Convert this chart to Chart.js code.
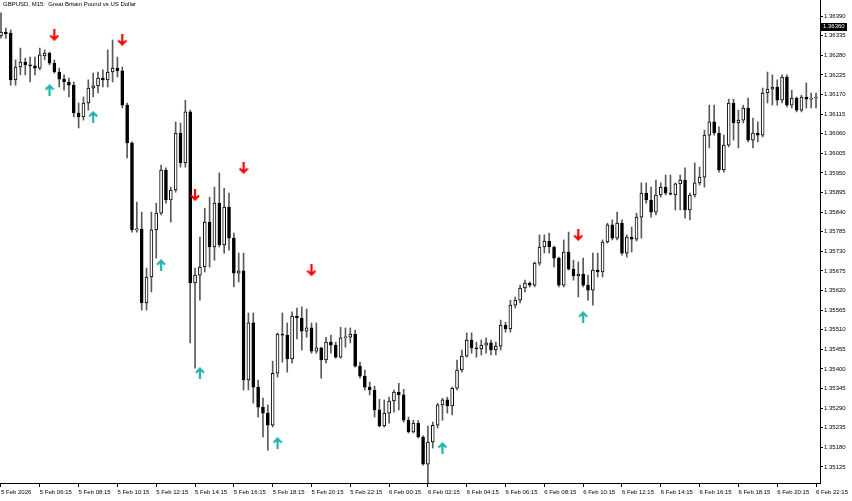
<!DOCTYPE html>
<html>
<head>
<meta charset="utf-8">
<script src="https://cdn.jsdelivr.net/npm/chart.js@4.4.1/dist/chart.umd.min.js"></script>
<style>
  html, body { margin: 0; padding: 0; background: #fff; }
  #wrap { position: relative; width: 852px; height: 501px; }
  #title { position: absolute; left: 3px; top: 1px; font: 6px "Liberation Sans", Arial, sans-serif; color: #000; white-space: pre; }
</style>
</head>
<body>
<div id="wrap">
  <canvas id="chartGbp" width="852" height="501"></canvas>
  <div id="title">GBPUSD, M15:  Great Britain Pound vs US Dollar</div>
</div>
<script>
// GBPUSD M15, one bar per 15 min, first bar 5 Feb 04:15
const opens = [
  1.36334,1.36345,1.36342,1.36211,1.36247,1.36261,1.36253,1.36250,1.36244,1.36278,
  1.36286,1.36258,1.36233,1.36213,1.36205,1.36196,1.36118,1.36107,1.36146,1.36188,
  1.36194,1.36216,1.36211,1.36233,1.36244,1.36236,1.36140,1.36034,1.35790,1.35792,
  1.35585,1.35658,1.35790,1.35837,1.35958,1.35874,1.35902,1.36062,1.35978,1.36121,
  1.35641,1.35663,1.35686,1.35812,1.35742,1.35865,1.35748,1.35854,1.35767,1.35669,
  1.35675,1.35369,1.35529,1.35349,1.35293,1.35276,1.35242,1.35388,1.35498,1.35495,
  1.35428,1.35548,1.35543,1.35506,1.35515,1.35450,1.35459,1.35425,1.35475,1.35467,
  1.35433,1.35487,1.35489,1.35498,1.35408,1.35380,1.35349,1.35341,1.35285,1.35240,
  1.35276,1.35310,1.35335,1.35327,1.35256,1.35223,1.35248,1.35209,1.35133,1.35195,
  1.35242,1.35299,1.35313,1.35296,1.35346,1.35397,1.35436,1.35481,1.35459,1.35456,
  1.35467,1.35473,1.35453,1.35464,1.35523,1.35512,1.35579,1.35593,1.35627,1.35641,
  1.35635,1.35697,1.35742,1.35759,1.35742,1.35711,1.35635,1.35728,1.35680,1.35661,
  1.35666,1.35635,1.35621,1.35677,1.35672,1.35756,1.35804,1.35767,1.35809,1.35725,
  1.35770,1.35764,1.35826,1.35893,1.35874,1.35840,1.35888,1.35910,1.35893,1.35888,
  1.35919,1.35930,1.35846,1.35888,1.35922,1.35938,1.36056,1.36093,1.36062,1.35958,
  1.36028,1.36146,1.36090,1.36098,1.36132,1.36042,1.36062,1.36056,1.36174,1.36185,
  1.36191,1.36154,1.36219,1.36140,1.36160,1.36126,1.36163,1.36157,1.36160
];
const highs = [
  1.36399,1.36356,1.36351,1.36267,1.36300,1.36272,1.36275,1.36275,1.36300,1.36295,
  1.36289,1.36267,1.36244,1.36225,1.36216,1.36205,1.36146,1.36163,1.36211,1.36230,
  1.36233,1.36239,1.36295,1.36323,1.36275,1.36247,1.36146,1.36037,1.35868,1.35840,
  1.35683,1.35840,1.35865,1.35972,1.35964,1.35910,1.36093,1.36090,1.36154,1.36126,
  1.35683,1.35770,1.35851,1.35882,1.35910,1.35950,1.35907,1.35893,1.35781,1.35725,
  1.35725,1.35557,1.35557,1.35369,1.35318,1.35299,1.35422,1.35501,1.35557,1.35529,
  1.35560,1.35571,1.35574,1.35568,1.35529,1.35529,1.35461,1.35489,1.35495,1.35475,
  1.35517,1.35515,1.35515,1.35509,1.35419,1.35397,1.35363,1.35352,1.35315,1.35313,
  1.35321,1.35341,1.35360,1.35343,1.35265,1.35256,1.35256,1.35212,1.35240,1.35251,
  1.35304,1.35318,1.35321,1.35349,1.35425,1.35453,1.35501,1.35501,1.35475,1.35481,
  1.35487,1.35481,1.35475,1.35537,1.35531,1.35593,1.35602,1.35635,1.35649,1.35644,
  1.35700,1.35776,1.35776,1.35781,1.35745,1.35714,1.35762,1.35784,1.35705,1.35700,
  1.35711,1.35663,1.35725,1.35725,1.35762,1.35809,1.35818,1.35840,1.35818,1.35776,
  1.35798,1.35837,1.35922,1.35922,1.35910,1.35930,1.35922,1.35944,1.35944,1.35922,
  1.35944,1.35964,1.35893,1.35978,1.35966,1.36070,1.36140,1.36140,1.36079,1.36056,
  1.36157,1.36157,1.36126,1.36140,1.36160,1.36104,1.36093,1.36188,1.36233,1.36225,
  1.36211,1.36225,1.36225,1.36182,1.36163,1.36168,1.36202,1.36174,1.36174
];
const lows = [
  1.36328,1.36328,1.36196,1.36196,1.36225,1.36225,1.36205,1.36225,1.36239,1.36267,
  1.36253,1.36230,1.36191,1.36182,1.36163,1.36107,1.36076,1.36098,1.36126,1.36163,
  1.36174,1.36191,1.36191,1.36205,1.36219,1.36132,1.35992,1.35784,1.35784,1.35565,
  1.35565,1.35616,1.35711,1.35832,1.35865,1.35812,1.35896,1.35966,1.35966,1.35473,
  1.35402,1.35593,1.35672,1.35686,1.35705,1.35742,1.35725,1.35733,1.35630,1.35644,
  1.35341,1.35341,1.35304,1.35265,1.35209,1.35172,1.35237,1.35377,1.35419,1.35391,
  1.35416,1.35484,1.35453,1.35489,1.35444,1.35444,1.35374,1.35416,1.35444,1.35430,
  1.35430,1.35461,1.35473,1.35405,1.35374,1.35341,1.35327,1.35265,1.35237,1.35237,
  1.35248,1.35279,1.35285,1.35251,1.35220,1.35220,1.35206,1.35130,1.35080,1.35178,
  1.35234,1.35256,1.35276,1.35271,1.35341,1.35391,1.35433,1.35444,1.35433,1.35439,
  1.35444,1.35439,1.35439,1.35453,1.35503,1.35503,1.35571,1.35585,1.35616,1.35630,
  1.35630,1.35691,1.35725,1.35725,1.35686,1.35630,1.35630,1.35677,1.35649,1.35602,
  1.35630,1.35593,1.35579,1.35658,1.35658,1.35753,1.35762,1.35762,1.35719,1.35714,
  1.35728,1.35759,1.35767,1.35865,1.35826,1.35832,1.35882,1.35888,1.35888,1.35846,
  1.35846,1.35823,1.35818,1.35882,1.35916,1.35910,1.36020,1.36056,1.35952,1.35952,
  1.36023,1.36042,1.36020,1.36090,1.36037,1.36020,1.36037,1.36051,1.36146,1.36140,
  1.36140,1.36146,1.36135,1.36132,1.36121,1.36121,1.36132,1.36132,1.36132
];
const closes = [
  1.36345,1.36340,1.36211,1.36247,1.36261,1.36253,1.36250,1.36244,1.36281,1.36286,
  1.36258,1.36233,1.36213,1.36205,1.36196,1.36118,1.36107,1.36146,1.36188,1.36194,
  1.36216,1.36211,1.36233,1.36244,1.36236,1.36140,1.36034,1.35790,1.35792,1.35585,
  1.35658,1.35790,1.35837,1.35958,1.35874,1.35902,1.36062,1.35978,1.36121,1.35641,
  1.35663,1.35686,1.35812,1.35742,1.35865,1.35748,1.35854,1.35767,1.35669,1.35675,
  1.35369,1.35529,1.35349,1.35293,1.35276,1.35242,1.35388,1.35498,1.35495,1.35428,
  1.35548,1.35543,1.35506,1.35515,1.35450,1.35459,1.35425,1.35475,1.35467,1.35433,
  1.35487,1.35489,1.35498,1.35408,1.35380,1.35349,1.35341,1.35285,1.35240,1.35276,
  1.35310,1.35335,1.35327,1.35256,1.35223,1.35248,1.35209,1.35133,1.35195,1.35242,
  1.35299,1.35313,1.35296,1.35346,1.35397,1.35436,1.35481,1.35459,1.35456,1.35467,
  1.35473,1.35453,1.35464,1.35523,1.35512,1.35579,1.35593,1.35627,1.35641,1.35635,
  1.35697,1.35742,1.35759,1.35742,1.35711,1.35635,1.35728,1.35680,1.35661,1.35666,
  1.35635,1.35621,1.35677,1.35672,1.35756,1.35804,1.35767,1.35809,1.35725,1.35770,
  1.35764,1.35826,1.35893,1.35874,1.35840,1.35888,1.35910,1.35893,1.35890,1.35919,
  1.35930,1.35846,1.35888,1.35922,1.35938,1.36056,1.36093,1.36062,1.35958,1.36028,
  1.36146,1.36090,1.36098,1.36132,1.36042,1.36062,1.36056,1.36174,1.36185,1.36191,
  1.36154,1.36219,1.36140,1.36160,1.36126,1.36163,1.36157,1.36160,1.36163
];

// signal arrows (bar index + price)
const sellIdx = [11, 25, 40, 50, 64, 119];
const sellPrice = [1.36337, 1.36323, 1.35888, 1.35964, 1.35677, 1.35776];
const buyIdx = [10, 19, 33, 41, 57, 91, 120];
const buyPrice = [1.36182, 1.36107, 1.35691, 1.35388, 1.35192, 1.35178, 1.35545];

// axis labels, one every 8 bars (2 hours)
const timeLabels = [
  '5 Feb 2026','5 Feb 06:15','5 Feb 08:15','5 Feb 10:15','5 Feb 12:15','5 Feb 14:15',
  '5 Feb 16:15','5 Feb 18:15','5 Feb 20:15','5 Feb 22:15','6 Feb 00:15','6 Feb 02:15',
  '6 Feb 04:15','6 Feb 06:15','6 Feb 08:15','6 Feb 10:15','6 Feb 12:15','6 Feb 14:15',
  '6 Feb 16:15','6 Feb 18:15','6 Feb 20:15','6 Feb 22:15'
];
const labelStep = 8;
const priceTicks = [
  1.35125,1.35180,1.35235,1.35290,1.35345,1.35400,1.35455,1.35510,1.35565,1.35620,
  1.35675,1.35730,1.35785,1.35840,1.35895,1.35950,1.36005,1.36060,1.36115,1.36170,
  1.36225,1.36280,1.36335,1.36390
];
const lastPrice = 1.36360;

const FONT = '"Liberation Sans", Arial, sans-serif';

function makeArrow(color, down) {
  const c = document.createElement('canvas');
  c.width = 10; c.height = 12;
  const g = c.getContext('2d');
  g.strokeStyle = color;
  g.lineWidth = 2.2;
  g.beginPath();
  if (down) {
    g.moveTo(5, 0); g.lineTo(5, 10.5);
    g.moveTo(1, 6.5); g.lineTo(5, 10.5); g.lineTo(9, 6.5);
  } else {
    g.moveTo(5, 12); g.lineTo(5, 1.5);
    g.moveTo(1, 5.5); g.lineTo(5, 1.5); g.lineTo(9, 5.5);
  }
  g.stroke();
  return c;
}

const priceTag = {
  id: 'priceTag',
  afterDraw(chart) {
    const { ctx } = chart;
    const y = chart.scales.y;
    const py = y.getPixelForValue(lastPrice);
    ctx.save();
    ctx.fillStyle = '#000';
    ctx.fillRect(y.left + 1, Math.round(py) - 4, 26, 8);
    ctx.fillStyle = '#fff';
    ctx.font = '6px ' + FONT;
    ctx.textAlign = 'left';
    ctx.textBaseline = 'middle';
    ctx.fillText(lastPrice.toFixed(5), y.left + 3, py);
    ctx.restore();
  }
};

const idx = opens.map((_, i) => i);
const wickData = idx.map(i => ({ x: i, y: [lows[i], highs[i]] }));
const bodyData = idx.map(i => ({ x: i, y: [opens[i], closes[i]] }));
const bodyFill = idx.map(i => closes[i] >= opens[i] ? '#ffffff' : '#000000');

new Chart(document.getElementById('chartGbp'), {
  type: 'bar',
  data: {
    datasets: [
      {
        type: 'scatter', order: 0,
        data: sellIdx.map((v, k) => ({ x: v, y: sellPrice[k] })),
        pointStyle: makeArrow('#ff0000', true), pointRadius: 5
      },
      {
        type: 'scatter', order: 0,
        data: buyIdx.map((v, k) => ({ x: v, y: buyPrice[k] })),
        pointStyle: makeArrow('#20b2aa', false), pointRadius: 5
      },
      {
        data: bodyData, order: 1, grouped: false,
        backgroundColor: bodyFill, borderColor: '#000', borderWidth: 1,
        borderSkipped: false, barThickness: 3, minBarLength: 1
      },
      {
        data: wickData, order: 2, grouped: false,
        backgroundColor: '#5a5a5a', borderWidth: 0, barThickness: 1
      }
    ]
  },
  options: {
    responsive: false,
    animation: false,
    events: [],
    layout: { padding: 0, autoPadding: false },
    plugins: { legend: { display: false }, tooltip: { enabled: false } },
    scales: {
      x: {
        type: 'linear', min: -0.206, max: 168.82, offset: false,
        grid: { offset: false, drawOnChartArea: false, drawTicks: true, tickLength: 4, color: '#000' },
        border: { display: true, color: '#000' },
        ticks: {
          autoSkip: false, maxRotation: 0, align: 'start', padding: 2,
          color: '#000', font: { family: FONT, size: 6 },
          callback: (v, i) => timeLabels[i]
        },
        afterBuildTicks: s => { s.ticks = timeLabels.map((_, k) => ({ value: k * labelStep })); },
        afterFit: s => { s.height = 18; s.paddingLeft = 0; s.paddingRight = 0; }
      },
      y: {
        type: 'linear', position: 'right', min: 1.35080, max: 1.36435,
        grid: { drawOnChartArea: false, drawTicks: true, tickLength: 3, color: '#000' },
        border: { display: true, color: '#000' },
        ticks: {
          padding: 1, color: '#000', font: { family: FONT, size: 6 },
          callback: v => Number(v).toFixed(5)
        },
        afterBuildTicks: s => { s.ticks = priceTicks.map(v => ({ value: v })); },
        afterFit: s => { s.width = 32; s.paddingTop = 0; s.paddingBottom = 0; }
      }
    }
  },
  plugins: [priceTag]
});
</script>
</body>
</html>
